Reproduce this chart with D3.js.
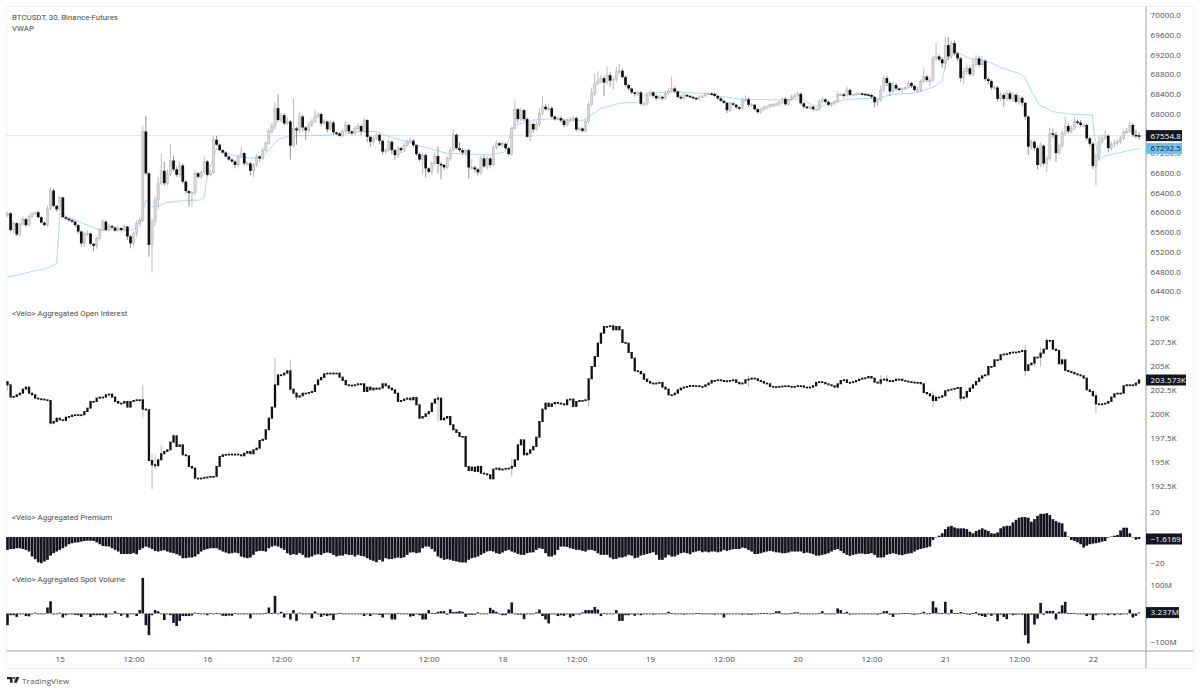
<!DOCTYPE html>
<html>
<head>
<meta charset="utf-8">
<script src="https://cdn.jsdelivr.net/npm/d3@7"></script>
<style>
html, body { margin: 0; padding: 0; background: #fff; }
svg { display: block; }
text { font-family: "Open Sans", sans-serif; font-size: 8px; fill: #4a4a4a; letter-spacing: 0.15px; }
text.title { font-family: Roboto, sans-serif; font-size: 7.9px; letter-spacing: 0; }
</style>
</head>
<body>
<svg id="chart" width="1200" height="692"></svg>
<script>
// candle closes, one per 30 minute bar
const closes = [
65980,65640,65780,65550,65760,65860,65740,65910,65970,66000,65900,65790,65740,66080,66440,66130,66060,66300,65900,65870,
65840,65810,65740,65610,65370,65570,65570,65360,65320,65470,65640,65810,65640,65720,65690,65630,65680,65640,65710,65510,
65370,65570,65780,65840,67640,66790,65340,65810,66250,66590,66840,66590,66780,67050,66870,66760,66950,66620,66430,66390,
66400,66790,66720,66800,67030,66760,66800,67470,67370,67260,67210,67130,67070,67030,66960,67130,67200,66990,66990,66840,
66960,67130,67090,67260,67400,67640,67740,68110,67870,67970,67800,67840,67350,67700,67660,67940,67720,67660,67770,67840,
67940,67990,67800,67840,67680,67820,67620,67600,67550,67640,67770,67640,67600,67700,67750,67640,67870,67530,67430,67500,
67570,67450,67230,67260,67430,67260,67160,67300,
67260,67360,67430,67450,67360,67180,67070,67160,66890,66820,66990,67140,66980,66960,66910,67090,67260,67570,67300,67260,
67210,67260,66910,66910,66870,66810,67090,66930,67090,66960,67310,67400,67360,67390,67300,67180,67700,68090,67890,68070,
67890,67530,67790,67680,67790,68010,68140,68090,68110,67940,67890,67910,67860,67770,67870,67870,67910,67680,67700,67650,
67840,68180,68410,68610,68650,68720,68630,68780,68670,68700,68850,68870,68740,68580,68510,68430,68410,68430,68200,68200,
68380,68430,68360,68310,68340,68310,68410,68450,68510,68450,68340,68310,68380,68360,68340,68320,68310,68340,68360,68400,
68410,68400,68360,68310,68260,68220,68070,68210,68180,68130,68100,68280,68290,68180,68180,68090,68030,68090,68130,68140,
68180,68180,68200,68220,68300,68190,68280,68340,68360,68400,68210,68140,68130,68140,68090,68090,68240,68290,68240,68180,
68200,68240,68390,68390,68360,68480,68380,68390,68410,68410,68400,68390,68380,68340,68230,68280,68480,68720,68620,68450,
68580,68510,68480,68510,68530,68620,68560,68480,68480,68650,68750,68680,68680,69120,69160,69100,69020,69390,69160,69430,
69220,69120,68720,68850,68920,68800,68990,69120,68990,69070,68700,68660,68530,68530,68300,68380,68300,68410,68300,68380,
68240,68320,68220,67940,67330,67430,67300,66960,67350,66990,67090,67600,67570,67200,67350,67600,67750,67640,67700,67840,
67820,67770,67770,67500,67390,66940,67130,67430,67500,67550,67300,67370,67400,67430,67500,67620,67640,67770,67570,67560,67554.8
]
const firstOpen = 65930

// how far each wick sticks out of the body, USD
const wickUp = [
30,20,40,20,40,60,30,50,30,20,30,20,20,50,70,40,20,30,20,30,
20,30,20,20,20,30,60,20,20,30,40,50,30,40,30,20,30,20,40,20,
30,40,50,50,130,320,20,60,70,130,350,180,90,330,100,60,80,40,30,20,
30,60,30,50,100,30,60,70,80,30,20,30,20,20,20,40,130,20,40,30,
40,50,30,40,50,60,70,120,290,50,40,100,30,600,30,100,40,30,60,50,
150,40,30,50,20,60,30,20,20,40,70,30,20,50,60,30,40,20,20,40,
40,20,20,40,50,30,20,40,30,40,30,60,40,20,30,50,30,20,40,70,
190,40,20,50,60,115,30,120,40,30,30,170,40,30,60,60,40,30,50,60,
30,40,20,30,40,175,30,60,30,40,50,30,60,100,220,60,90,40,30,30,
40,30,30,50,40,30,30,20,50,60,120,200,210,70,40,170,60,50,90,135,
50,30,30,20,20,40,30,30,50,60,30,30,40,20,50,60,240,40,20,30,
30,20,20,20,20,40,30,30,30,20,30,20,20,20,20,30,20,20,20,50,
80,40,30,20,20,30,30,20,20,30,20,40,40,30,30,40,50,50,30,30,
20,20,20,20,50,50,20,20,30,30,60,30,20,80,30,20,20,30,20,20,
20,20,20,40,90,50,50,30,60,40,20,30,30,50,30,30,60,40,170,40,
60,60,280,40,40,170,160,40,60,30,30,70,70,40,120,70,50,100,40,30,
30,40,30,70,40,60,50,60,40,50,30,20,20,40,30,40,70,30,60,120,
100,60,50,60,190,50,60,90,40,50,40,30,30,30,60,120,80,120,40,60,
60,40,50,60,70,60,40,110,60
]
const wickDown = [
30,30,60,40,40,30,40,20,20,30,20,20,30,40,50,20,50,40,20,30,
30,30,40,50,70,70,50,20,110,60,40,30,30,20,30,30,20,30,30,70,
100,50,60,40,40,40,240,560,90,180,50,50,30,50,40,40,60,40,50,270,
270,60,40,40,40,30,30,20,20,20,30,20,30,30,70,40,30,40,30,90,
130,40,60,30,30,30,40,60,40,50,40,30,280,40,290,60,80,190,50,40,
30,40,50,30,60,30,50,40,20,30,30,50,40,30,30,80,30,110,100,60,
30,70,60,40,30,80,100,60,
60,40,40,30,40,40,40,300,180,40,60,50,190,290,50,30,50,20,30,40,
50,60,220,40,70,60,50,30,60,70,30,40,30,40,30,30,40,30,70,40,
40,30,90,60,30,50,40,30,40,30,30,30,40,50,30,40,30,40,50,30,
40,40,40,60,30,40,270,40,120,180,60,50,30,30,40,30,60,50,30,30,
40,30,40,40,30,40,30,30,30,40,40,30,30,30,20,30,30,40,30,30,
20,20,30,30,20,20,60,40,20,40,40,30,40,50,30,30,30,30,30,40,
30,30,30,40,30,30,30,30,30,30,30,50,30,50,40,40,30,30,40,30,
40,30,30,30,50,30,30,30,30,30,30,20,30,40,100,80,40,40,60,100,
30,40,30,60,40,30,40,30,50,40,30,40,120,30,50,40,90,120,70,50,
40,50,70,120,60,40,50,40,50,50,40,60,50,40,60,50,160,50,40,60,
30,60,70,60,170,60,50,90,40,60,170,40,60,170,40,40,40,50,40,40,
30,40,40,50,50,60,400,90,40,30,90,60,50,30,40,30,30,30,40,60,90
]

// vwap, read at the bends of the line
const vwapBars = [0,10,12,15,16,17,19,22,25,30,40,43,44,45,47,49,52,56,63,64,65,67,68,70,75,80,83,86,88,91,95,105,110,115,120,124,128,133,139,143,150,157,162,164,165.5,171,176,184.5,187,189,193,199,205,208,216,226,231,238,251,258.4,261.7,264,267,270,273,280,283,285.6,288.9,295,300.8,304,305,306.8,309.5,312.8,315.5,319,323.6,329,330.7,333.4,335.6,340,345.5,352.8,353.5,355,356,361.7,367,368]
const vwapValues = [64682,64831,64844,64932,64966,65980,65912,65844,65763,65642,65642,65709,65980,66250,66115,66128,66203,66230,66250,66317,66757,67115,67297,67230,67128,67094,67128,67331,67480,67534,67554,67567,67588,67648,67635,67534,67466,67365,67263,67196,67182,67162,67230,67703,67770,67871,67892,67871,67858,67939,68108,68209,68230,68412,68446,68412,68358,68297,68277,68297,68176,68128,68196,68243,68290,68311,68297,68358,68398,68412,68534,68649,68986,69290,69223,69122,69088,69054,68919,68817,68750,68412,68176,68040,67993,67973,67534,67061,67128,67209,67284,67292.5]

// open interest closes, thousands
const oiCloses = [
203.07,201.79,201.86,202.03,202.20,202.62,202.83,202.20,202.03,201.68,201.61,201.58,201.51,201.44,199.08,199.25,199.60,199.43,199.36,199.70,
199.77,199.91,199.95,199.91,199.95,200.29,200.64,201.34,201.34,201.68,201.79,201.79,202.03,202.10,201.79,201.34,201.16,201.16,201.34,200.75,
201.34,201.44,201.51,201.51,200.54,200.47,195.19,194.74,194.64,195.26,195.89,196.13,196.30,197.10,197.76,196.65,196.82,195.78,195.68,194.57,
194.39,193.35,193.35,193.35,193.42,193.46,193.53,193.53,194.57,195.61,195.78,195.82,195.85,195.85,195.85,195.78,195.68,195.95,196.13,195.89,
196.30,196.47,197.27,197.41,198.39,199.60,200.75,203.07,204.11,204.11,204.29,204.53,202.62,202.20,201.79,201.93,202.20,202.20,202.27,202.38,
203.07,203.59,203.84,204.22,204.29,204.29,204.29,204.29,203.87,203.52,203.07,203.04,203.00,203.07,203.18,203.18,202.38,202.83,202.55,202.73,
202.62,202.73,203.18,202.97,202.73,202.55,202.20,201.34,
201.44,201.58,201.68,201.51,201.75,200.99,199.60,199.77,200.05,200.29,201.16,201.58,201.68,199.43,199.60,199.77,198.91,198.39,198.11,197.69,
197.69,194.57,194.15,194.50,194.05,194.57,193.87,193.80,193.70,193.28,194.29,194.39,194.22,194.29,194.36,194.39,194.57,195.26,196.82,197.34,
195.78,195.95,196.30,196.65,197.62,199.25,200.54,201.16,200.82,201.09,201.23,201.16,201.09,200.99,201.51,201.58,200.82,201.34,201.44,201.44,
201.51,203.70,204.98,206.02,207.41,208.45,209.15,209.15,209.22,208.80,209.15,208.80,207.48,207.41,206.44,205.85,204.53,204.46,204.22,203.66,
203.42,203.25,203.18,203.25,203.32,202.83,202.62,202.03,202.03,202.20,202.55,202.73,202.83,202.90,203.00,202.97,202.97,202.90,202.90,203.07,
203.25,203.52,203.52,203.59,203.52,203.42,203.49,203.52,203.59,203.32,203.18,203.25,203.59,203.66,203.77,203.70,203.52,203.42,203.25,203.18,
202.90,202.83,202.87,202.90,202.94,202.97,202.90,202.83,202.90,202.97,
202.97,202.83,202.83,202.83,202.97,203.32,203.39,203.32,203.18,203.07,202.97,202.83,203.18,203.52,203.59,203.32,203.32,203.39,203.52,203.66,
203.77,203.80,203.94,203.77,203.35,203.25,203.59,203.66,203.52,203.42,203.52,203.66,203.66,203.52,203.45,203.39,203.35,203.32,203.32,203.18,
202.27,202.14,201.93,201.44,201.79,201.79,201.93,202.45,202.55,202.62,202.69,202.79,201.68,201.79,202.38,202.73,203.07,203.42,203.77,204.01,
204.11,204.98,204.98,205.68,205.68,206.20,206.27,206.30,206.44,206.48,206.48,206.54,206.65,204.57,205.16,205.33,205.95,205.95,206.37,206.79,
207.69,207.69,206.79,206.65,205.26,205.68,204.57,204.46,204.36,204.22,204.11,204.01,203.77,202.55,202.38,201.93,201.09,201.06,201.09,201.16,
201.34,201.79,202.14,202.20,202.20,202.97,203.07,203.07,203.04,203.25,203.573
]
// the open interest bars that show a wick at all
const oiWickBars = [0,14,44,47,48,50,54,87,92,94,140,164,189,241,284,286,301,310,331,334,336,338,354]
const oiWickHigh = [203.42,201.5,203.07,195.95,195.8,196.82,198.0,205.85,205.68,202.3,202.03,195.43,201.5,204.04,204.1,204.11,202.38,202.6,207.24,206.0,206.99,207.94,202.38]
const oiWickLow = [202.5,198.9,199.67,192.2,194.3,195.4,197.2,202.9,202.4,201.5,199.3,193.53,200.75,202.83,203.0,203.3,200.75,201.34,203.94,204.98,204.98,207.2,200.12]

// premium
const premium = [
-10.1,-9.4,-9.4,-8.8,-8.8,-9.4,-10.1,-11.4,-15.3,-17.4,-19.8,-20.5,-19.2,-17.9,-14.6,-12.7,-11.4,-10.1,-8.8,-7.5,
-5.7,-4.9,-4.4,-4.2,-3.6,-3.1,-2.9,-2.9,-3.1,-4.2,-5.7,-7,-7.3,-7.5,-8.8,-10.1,-11.4,-13.3,-13.3,-13.3,
-13.3,-12.7,-13.5,-10.1,-8.8,-7.5,-8.3,-9.4,-10.9,-11.4,-10.7,-10.4,-11.4,-12.2,-12.7,-13.5,-14.6,-16.6,-16.6,-16.1,
-16.1,-15.3,-13.5,-11.4,-10.1,-9.4,-8.8,-8.8,-8.8,-10.1,-11.4,-12.2,-13,-12.7,-12.2,-12.7,-15.3,-16.1,-16.6,-16.1,
-14,-11.4,-10.9,-10.9,-11.4,-8.8,-7.5,-6.8,-7.5,-8.8,-10.1,-12.7,-14,-13.5,-14,-12.7,-14,-16.1,-16.1,-15.3,
-14,-13.5,-14,-12.7,-12.2,-12.7,-14,-15.3,-14.6,-14.6,-13.5,-14,-14,-15.3,-14,-14.8,-15.3,-16.6,-17.9,-18.7,
-19.8,-17.9,-19.2,-16.6,-17.4,-17.2,-16.6,-16.1,
-16.6,-15.9,-14,-12.2,-12,-12.7,-12.2,-8.8,-7.5,-7.5,-9.4,-11.4,-15.3,-16.6,-17.9,-17.4,-17.9,-18.7,-19.2,-19.8,
-20,-20,-17.9,-16.6,-16.1,-15.3,-14,-12.7,-11.4,-10.9,-11.4,-12.7,-13.3,-12.2,-10.9,-10.1,-11.4,-12.2,-13.3,-14,
-14,-12.7,-12.2,-12,-10.1,-8.8,-9.4,-12.7,-15.3,-15.3,-14,-10.1,-7.5,-7.5,-7.8,-8.8,-9.4,-10.1,-10.1,-10.9,
-11.4,-10.1,-10.1,-10.9,-12.7,-14,-14,-14,-16.1,-17.4,-17.2,-16.1,-16.1,-15.3,-14,-14.6,-16.6,-16.1,-14.6,-14,
-13.3,-12.7,-12,-14,-17.9,-17.9,-16.1,-14,-15.3,-15.3,-14,-12.7,-12.2,-12.7,-13.5,-12,-11.4,-10.9,-12,-11.4,
-12,-11.4,-11.4,-12,-11.4,-10.1,-10.9,-10.1,-9.6,-9.4,-9.4,-8.3,-8.8,-10.1,-11.4,-13.3,-13.3,-12.7,-12,-11.4,
-10.9,-11.4,-12,-12.2,-12.7,-12.7,-12.2,-11.4,-11.4,-11.4,
-11.4,-12.7,-12.2,-12.7,-13.5,-14.6,-14.6,-14,-13.5,-12.7,-11.4,-10.1,-9.4,-10.9,-12.7,-14,-14.8,-14,-13.5,-13,
-13,-13.5,-13.3,-12.7,-14,-16.1,-16.1,-15.9,-14,-13.3,-12.7,-13.3,-14,-14.3,-13.5,-13,-12.7,-11.4,-10.1,-9.4,
-8.8,-8.3,-7.5,-2.3,
-0.3,1,2.9,6.2,8.1,8.8,7.5,6.8,6.8,6.8,6.2,4.2,2.9,4.7,5.7,6.8,5.7,4.7,2.9,2.6,
3.6,6.8,8.3,8.8,8.8,11.4,13.5,15.1,15.6,15.6,15.1,12,14,16.6,18.2,18.2,18.7,17.2,14,12.5,
11.4,10.7,4.2,0.3,-2.3,-3.1,-4.2,-5.7,-8.3,-6.8,-5.7,-5.2,-4.9,-4.4,-3.6,-3.1,-0.5,0.3,1,1.6,
5.2,7.3,7.3,2.9,-0.3,-2.1,-1.6169
]

// spot volume delta, millions
const spotVolume = [
-41,-6,-6,-12,-3,-2,-9,-10,-2,3,-1,-1,-1,21,43,-3,-1,3,-14,-6,
-3,-3,-5,-6,-12,-2,-3,-12,-6,-6,-6,-6,-14,-1,-3,8,2,-8,-1,-14,
-1,-1,-9,12,125,-41,-76,-6,12,8,-1,-23,-1,-6,-33,-44,-26,-9,-9,-9,
-7,3,1,-2,-1,-6,2,-1,1,-2,-8,-9,-7,-8,1,-1,-2,-3,-1,-17,
-2,-1,0,0,1,21,1,62,-2,6,-14,-1,-21,12,-26,3,-3,-1,-1,-17,
7,-3,-12,-6,-9,-6,-23,-1,2,-1,-1,-2,-1,-2,-1,-1,-9,-1,-9,-1,
-2,-5,-14,-3,-1,-21,-21,2,
-2,-1,-1,-11,-9,-1,-6,-21,-21,12,2,1,6,8,8,-4,15,5,6,8,
6,-12,-4,-5,-4,4,-1,0,0,20,12,6,-1,-6,-6,14,39,-2,-4,-4,
-20,-1,-2,-2,4,14,-9,-21,-35,0,0,-9,-6,-8,-1,-14,-9,-2,-4,4,
12,12,12,23,14,-9,2,0,-2,-1,12,-26,-26,-6,-6,-1,-8,-1,-6,-1,
-1,-1,-4,-1,0,0,0,6,1,-1,-2,-1,-4,-1,-2,-1,1,1,-1,-1,
-2,-2,-4,-1,-1,-14,-1,-1,-2,-1,-1,-4,-1,-4,-4,-1,-1,1,1,1,
0,1,8,8,-1,-2,-1,1,4,4,
-2,-2,-1,-1,-1,-1,2,8,-1,-1,-1,-1,18,12,2,6,-4,-1,-1,-1,
-1,-1,-1,-1,-2,-4,1,8,9,-4,-12,-2,0,1,1,1,-1,-4,-2,1,
6,-2,1,43,21,1,1,41,-2,14,1,1,5,2,0,-4,1,5,-6,-9,
-12,-2,-8,-1,-27,-4,-12,-20,-1,-6,-4,-1,-4,-76,-105,-4,-39,-18,37,-4,
9,9,9,-21,6,29,41,1,2,2,-1,-1,-1,-9,-4,-23,-6,-1,0,0,
-6,-1,-6,-1,-4,-2,-1,14,-14,-8,3.237
]

// axes, 67600 sits under the last price tag
const priceTicks = [70000,69600,69200,68800,68400,68000,67200,66800,66400,66000,65600,65200,64800,64400]
const oiTicks = [210,207.5,205,202.5,200,197.5,195,192.5]
const premiumTicks = [20,-20]
const volumeTicks = [100,-100]
const timeTickBars = [17,41,65,89,113,137,161,185,209,233,257,281,305,329,353]
const timeTickLabels = ["15","12:00","16","12:00","17","12:00","18","12:00","19","12:00","20","12:00","21","12:00","22"]

const axis_x = 1146
const frame = { left: 6.5, top: 6.5, right: 1193.5, bottom: 668.5, time: 651 }
const body_width = 2.3

const svg = d3.select("#chart")
const minus = (s) => s.replace("-", "\u2212")

const x = d3.scaleLinear().domain([0, closes.length - 1]).range([7.5, 1139])
const y_price = d3.scaleLinear().domain([64400, 70000]).range([291.2, 15])
const y_oi = d3.scaleLinear().domain([192.5, 210]).range([486.3, 318.3])
const y_premium = d3.scaleLinear().domain([-20, 20]).range([562.5, 511.5])
const y_volume = d3.scaleLinear().domain([-100, 100]).range([642, 585])

// frame
svg.append("rect")
	.attr("x", frame.left).attr("y", frame.top)
	.attr("width", frame.right - frame.left).attr("height", frame.bottom - frame.top)
	.style("fill", "none").style("stroke", "#f0f2f5")

// last price line
svg.append("line")
	.attr("x1", frame.left).attr("x2", axis_x)
	.attr("y1", y_price(67554.8)).attr("y2", y_price(67554.8))
	.style("stroke", "#b5b5b5").style("stroke-width", 0.8)
	.style("stroke-dasharray", "1,1")

// vwap, the candles cover it
svg.append("path")
	.attr("d", d3.line().x((d) => x(d[0])).y((d) => y_price(d[1]))(d3.zip(vwapBars, vwapValues)))
	.style("fill", "none")
	.style("stroke", "#a3d8ea")
	.style("stroke-width", 0.9)

// price candles
const candles = svg.append("g")
closes.forEach((close, i) => {
	const open = i == 0 ? firstOpen : closes[i - 1]
	const up = close >= open
	const top = Math.max(open, close)
	const bottom = Math.min(open, close)
	const w = up ? body_width : 2.7
	candles.append("line")
		.attr("x1", x(i)).attr("x2", x(i))
		.attr("y1", y_price(top + wickUp[i])).attr("y2", y_price(bottom - wickDown[i]))
		.style("stroke", up ? "#aaa" : "#777")
		.style("stroke-width", 0.8)
	candles.append("rect")
		.attr("x", x(i) - w / 2)
		.attr("y", y_price(top))
		.attr("width", w)
		.attr("height", Math.max(1.5, y_price(bottom) - y_price(top)))
		.style("fill", up ? "#d6d6d6" : "#111")
		.style("stroke", up ? "#aaa" : "none")
		.style("stroke-width", 0.4)
})

// open interest candles
const oi = svg.append("g")
oiWickBars.forEach((bar, i) => {
	oi.append("line")
		.attr("x1", x(bar)).attr("x2", x(bar))
		.attr("y1", y_oi(oiWickHigh[i])).attr("y2", y_oi(oiWickLow[i]))
		.style("stroke", "#a8a8a8")
		.style("stroke-width", 0.8)
})
oiCloses.forEach((close, i) => {
	const open = i == 0 ? 203.4 : oiCloses[i - 1]
	const y_top = y_oi(Math.max(open, close))
	const y_bottom = y_oi(Math.min(open, close))
	oi.append("rect")
		.attr("x", x(i) - body_width / 2)
		.attr("y", y_top - 0.5)
		.attr("width", body_width)
		.attr("height", Math.max(1.8, y_bottom - y_top + 1))
		.style("fill", "#111")
})

// premium histogram
svg.append("g").selectAll("rect")
	.data(premium)
	.enter()
	.append("rect")
	.attr("x", (d, i) => x(i) - 1.35)
	.attr("y", (d) => Math.min(y_premium(d), y_premium(0)))
	.attr("width", 2.7)
	.attr("height", (d) => Math.abs(y_premium(d) - y_premium(0)))
	.style("fill", "#14141e")

// spot volume histogram
svg.append("g").selectAll("rect")
	.data(spotVolume)
	.enter()
	.append("rect")
	.attr("x", (d, i) => x(i) - 1.3)
	.attr("y", (d) => d > 0 ? y_volume(d) : y_volume(0))
	.attr("width", 2.6)
	.attr("height", (d) => Math.max(0.8, Math.abs(y_volume(d) - y_volume(0))))
	.style("fill", "#131722")

// axis lines
svg.append("line")
	.attr("x1", axis_x).attr("x2", axis_x)
	.attr("y1", frame.top).attr("y2", frame.bottom)
	.style("stroke", "#a0a0a0")
svg.append("line")
	.attr("x1", frame.left).attr("x2", frame.right)
	.attr("y1", frame.time).attr("y2", frame.time)
	.style("stroke", "#a0a0a0")

// value axes
const value_axis = (scale, ticks, format) => {
	const g = svg.append("g")
		.attr("transform", `translate(${axis_x},0)`)
		.call(d3.axisRight(scale).tickValues(ticks).tickFormat(format).tickSize(0).tickPadding(4.5))
	g.select(".domain").remove()
	return g
}
value_axis(y_price, priceTicks, (d) => d.toFixed(1))
value_axis(y_oi, oiTicks, (d) => d + "K")
value_axis(y_premium, premiumTicks, (d) => minus(String(d)))
value_axis(y_volume, volumeTicks, (d) => minus(d + "M"))

// time axis
const time_axis = svg.append("g")
	.attr("transform", `translate(0,${frame.time})`)
	.call(d3.axisBottom(x).tickValues(timeTickBars)
		.tickFormat((d, i) => timeTickLabels[i]).tickSize(0).tickPadding(5.5))
time_axis.select(".domain").remove()

// value tags on the axis
const tags = [
	{ y: y_price(67554.8), w: 36, text: "67554.8", fill: "#131722", color: "#fff" },
	{ y: y_price(67292.5), w: 36, text: "67292.5", fill: "#6cc0f5", color: "#222" },
	{ y: y_oi(203.573), w: 40, text: "203.573K", fill: "#131722", color: "#fff" },
	{ y: 539, w: 36, text: "\u22121.6169", fill: "#131722", color: "#fff" },
	{ y: y_volume(3.237), w: 33, text: "3.237M", fill: "#131722", color: "#fff" }
]
tags.forEach((tag) => {
	svg.append("rect")
		.attr("x", axis_x).attr("y", tag.y - 5.5)
		.attr("width", tag.w).attr("height", 11)
		.style("fill", tag.fill)
	svg.append("text")
		.attr("x", axis_x + 4.5).attr("y", tag.y + 2.9)
		.text(tag.text)
		.style("fill", tag.color)
})

// pane titles
const titles = [
	{ y: 19.5, text: "BTCUSDT, 30, Binance-Futures" },
	{ y: 30.5, text: "VWAP" },
	{ y: 316, text: "<Velo> Aggregated Open Interest" },
	{ y: 519.5, text: "<Velo> Aggregated Premium" },
	{ y: 582, text: "<Velo> Aggregated Spot Volume" }
]
titles.forEach((title) => {
	svg.append("text")
		.attr("class", "title")
		.attr("x", 12).attr("y", title.y)
		.text(title.text)
})

// TradingView mark
const logo = svg.append("g").attr("transform", "translate(7,677)").style("fill", "#222")
logo.append("path").attr("d", "M0 0H5.5V5.8H3V2.2H0Z")
logo.append("circle").attr("cx", 7.2).attr("cy", 1.1).attr("r", 1.1)
logo.append("path").attr("d", "M9.2 0H12.4L9.8 5.8H6.8Z")
svg.append("text")
	.attr("x", 22).attr("y", 684)
	.text("TradingView")
	.style("font-size", "8px")
	.style("fill", "#555")
</script>
</body>
</html>
